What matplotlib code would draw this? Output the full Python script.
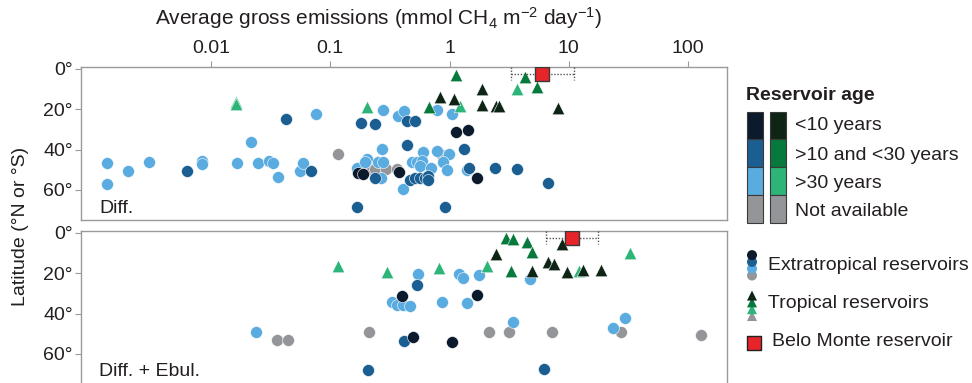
import numpy as np
import matplotlib
matplotlib.use("Agg")
import matplotlib.pyplot as plt
from matplotlib.patches import Rectangle

plt.rcParams['font.family'] = ['Liberation Sans', 'DejaVu Sans']
plt.rcParams['mathtext.default'] = 'regular'

# ---------------- data (x = emissions, mmol CH4 m-2 day-1 ; y = latitude) -------------
# Diffusion panel
diff_ext_old_x = [0.00134, 0.00134, 0.00201, 0.00301, 0.00838, 0.00838, 0.01665, 0.0217, 0.0250, 0.0309,
                  0.0333, 0.0367, 0.0558, 0.0588, 0.0764, 0.277, 0.368, 0.413, 0.781, 1.05,
                  0.272, 0.596, 0.781, 0.985, 0.202, 0.167, 0.196, 0.253, 0.279, 0.267,
                  0.485, 0.537, 0.585, 0.566, 0.695, 0.405, 0.887, 0.948, 1.39]
diff_ext_old_y = [46.8, 56.9, 50.4, 46.1, 45.8, 47.1, 46.8, 36.0, 46.8, 45.5,
                  46.8, 53.4, 50.4, 46.8, 22.5, 20.3, 23.2, 20.7, 20.3, 22.5,
                  39.5, 41.0, 40.5, 42.3, 44.6, 48.9, 46.3, 46.3, 46.3, 54.2,
                  46.3, 46.3, 45.5, 48.1, 49.2, 59.6, 46.0, 50.1, 50.1]
diff_ext_mid_x = [0.00627, 0.0429, 0.069, 0.181, 0.239, 0.438, 0.511, 0.443, 1.33, 0.238,
                  0.467, 0.514, 0.566, 0.623, 0.664, 0.664, 1.47, 2.41, 3.70, 6.73,
                  0.169, 0.917]
diff_ext_mid_y = [50.4, 24.9, 50.4, 26.9, 27.3, 25.9, 25.6, 37.8, 39.7, 54.2,
                  55.0, 54.2, 54.2, 54.2, 53.0, 55.0, 49.2, 49.2, 49.6, 56.4,
                  68.3, 68.3]
diff_ext_new_x = [1.14, 1.44, 0.172, 0.190, 0.377, 1.69]
diff_ext_new_y = [31.2, 30.4, 51.7, 52.1, 51.2, 54.2]
diff_ext_na_x = [0.117, 0.209, 0.238, 0.292, 0.361, 0.861]
diff_ext_na_y = [42.1, 49.6, 49.6, 49.6, 49.6, 42.5]
diff_tro_old_x = [0.0161, 0.0161, 0.202, 1.22, 3.68]
diff_tro_old_y = [16.6, 17.6, 18.7, 18.3, 9.8]
diff_tro_mid_x = [0.677, 1.13, 4.32, 5.41]
diff_tro_mid_y = [19.0, 3.0, 4.1, 9.1]
diff_tro_new_x = [0.838, 1.09, 1.88, 1.86, 2.45, 2.61, 8.17]
diff_tro_new_y = [13.7, 15.0, 9.9, 17.8, 18.3, 18.3, 19.5]
diff_bm_x, diff_bm_y, diff_bm_lo, diff_bm_hi = 6.0, 2.3, 3.28, 11.06

# Diffusion + ebullition panel
tot_ext_old_x = [0.0239, 0.327, 0.361, 0.410, 0.467, 0.547, 0.861, 1.19, 1.29, 1.39,
                 1.78, 4.73, 3.43, 23.6, 29.6]
tot_ext_old_y = [49.3, 34.3, 35.7, 35.7, 36.0, 20.3, 34.3, 20.5, 22.5, 34.5,
                 20.8, 22.8, 44.4, 46.9, 42.2]
tot_ext_mid_x = [0.531, 0.416, 0.206, 6.19]
tot_ext_mid_y = [25.8, 53.8, 67.8, 67.6]
tot_ext_new_x = [0.397, 1.69, 0.498, 1.05]
tot_ext_new_y = [31.1, 30.6, 51.6, 54.3]
tot_ext_na_x = [0.0358, 0.0443, 0.211, 2.14, 3.15, 7.28, 27.2, 127.6]
tot_ext_na_y = [52.9, 52.9, 49.1, 49.3, 49.3, 49.1, 49.3, 50.8]
tot_tro_old_x = [0.117, 0.297, 0.822, 2.05, 12.2, 32.6]
tot_tro_old_y = [16.2, 19.2, 17.2, 16.2, 18.9, 10.1]
tot_tro_mid_x = [2.96, 3.43, 4.49, 4.89, 3.26]
tot_tro_mid_y = [2.4, 3.1, 4.4, 9.3, 18.9]
tot_tro_new_x = [2.44, 4.89, 6.73, 7.52, 8.71, 9.60, 13.2, 18.5]
tot_tro_new_y = [10.3, 18.9, 14.3, 15.4, 5.7, 19.5, 18.5, 18.5]
tot_bm_x, tot_bm_y, tot_bm_lo, tot_bm_hi = 10.6, 2.4, 6.44, 17.5

x_ticks = [0.01, 0.1, 1, 10, 100]
x_tick_labels = ['0.01', '0.1', '1', '10', '100']
y_ticks = [0, 20, 40, 60]
y_tick_labels = ['0°', '20°', '40°', '60°']
age_labels = ['<10 years', '>10 and <30 years', '>30 years', 'Not available']

# ---------------- styling ----------------
C_EXT = ['#0b1a2c', '#1b5e91', '#5aabdf', '#939598']
C_TRO = ['#0e2515', '#07793c', '#2cb479', '#939598']
TXT = '#231f20'
SPINE = '#9a9a9a'

W, H = 972, 383
fig = plt.figure(figsize=(W / 100, H / 100), dpi=100)

def px_axes(l, t, r, b):
    return [l / W, 1 - b / H, (r - l) / W, (b - t) / H]

ax1 = fig.add_axes(px_axes(81, 66.7, 727, 220))
ax2 = fig.add_axes(px_axes(81, 230.7, 727, 384))

def style(ax, top_labels):
    ax.set_xscale('log')
    ax.set_xlim(8.15e-4, 211.8)
    ax.set_ylim(74.9, -1.1)
    for s in ax.spines.values():
        s.set_color(SPINE)
        s.set_linewidth(1.0)
    ax.set_yticks(y_ticks)
    ax.set_yticklabels(y_tick_labels)
    ax.tick_params(axis='y', which='major', length=4, width=0.8, color=SPINE,
                   labelsize=14, labelcolor=TXT, pad=2)
    ax.minorticks_off()
    if top_labels:
        ax.xaxis.set_ticks_position('top')
        ax.set_xticks(x_ticks)
        ax.set_xticklabels(x_tick_labels)
        ax.tick_params(axis='x', which='major', length=4, width=0.8, color=SPINE,
                       labelsize=14, labelcolor=TXT, pad=3, top=True, bottom=False)
    else:
        ax.set_xticks([])
    ax.xaxis.set_minor_locator(matplotlib.ticker.NullLocator())

style(ax1, True)
style(ax2, False)

S_C, S_T = 74, 82

def draw(ax, ext, tro, bm):
    # draw order: not available, old, mid, new
    order = [3, 2, 1, 0]
    for i in order:
        x, y = ext[i]
        ax.scatter(x, y, s=S_C, marker='o', color=C_EXT[i], edgecolors='white',
                   linewidths=0.4, zorder=3)
    for i in order:
        x, y = tro[i]
        if len(x) == 0:
            continue
        ax.scatter(x, y, s=S_T, marker='^', color=C_TRO[i], edgecolors='white',
                   linewidths=0.4, zorder=3)
    bx, by, lo, hi = bm
    ax.hlines(by, lo, hi, colors='#555555', linestyles=(0, (1, 1.2)), linewidth=1.0, zorder=4)
    ax.vlines([lo, hi], by - 3.2, by + 3.2, colors='#555555', linestyles=(0, (1, 1.2)),
              linewidth=1.0, zorder=4)
    ax.scatter([bx], [by], s=105, marker='s', color='#e8242b', edgecolors='#3a3a3a',
               linewidths=1.0, zorder=5)

draw(ax1,
     [(diff_ext_new_x, diff_ext_new_y), (diff_ext_mid_x, diff_ext_mid_y),
      (diff_ext_old_x, diff_ext_old_y), (diff_ext_na_x, diff_ext_na_y)],
     [(diff_tro_new_x, diff_tro_new_y), (diff_tro_mid_x, diff_tro_mid_y),
      (diff_tro_old_x, diff_tro_old_y), ([], [])],
     (diff_bm_x, diff_bm_y, diff_bm_lo, diff_bm_hi))
draw(ax2,
     [(tot_ext_new_x, tot_ext_new_y), (tot_ext_mid_x, tot_ext_mid_y),
      (tot_ext_old_x, tot_ext_old_y), (tot_ext_na_x, tot_ext_na_y)],
     [(tot_tro_new_x, tot_tro_new_y), (tot_tro_mid_x, tot_tro_mid_y),
      (tot_tro_old_x, tot_tro_old_y), ([], [])],
     (tot_bm_x, tot_bm_y, tot_bm_lo, tot_bm_hi))

ax1.text(0.028, 0.078, 'Diff.', transform=ax1.transAxes, fontsize=14, color=TXT,
         ha='left', va='center')
ax2.text(0.028, 0.080, 'Diff. + Ebul.', transform=ax2.transAxes, fontsize=14, color=TXT,
         ha='left', va='center')

# axis titles
fig.text(378 / W, 1 - 18 / H, r'Average gross emissions (mmol CH$_4$ m$^{-2}$ day$^{-1}$)',
         ha='center', va='center', fontsize=15, color=TXT)
fig.text(21 / W, 1 - 226 / H, 'Latitude (°N or °S)', rotation=90, ha='center', va='center',
         fontsize=14, color=TXT)

# ---------------- legend (drawn in pixel space) ----------------
lg = fig.add_axes([0, 0, 1, 1], zorder=10)
lg.set_xlim(0, W)
lg.set_ylim(H, 0)
lg.axis('off')
lg.patch.set_alpha(0)

lg.text(746, 96, 'Reservoir age', fontsize=14, fontweight='bold', color=TXT,
        ha='left', va='center')
row_top = 111.7
row_h = 27.75
label_y = [125, 155, 183.5, 211.5]
for i, lab in enumerate(age_labels):
    t = row_top + i * row_h
    lg.add_patch(Rectangle((747, t), 16, row_h, facecolor=C_EXT[i], edgecolor='#3a3a3a',
                           linewidth=0.8))
    lg.add_patch(Rectangle((770, t), 16, row_h, facecolor=C_TRO[i], edgecolor='#3a3a3a',
                           linewidth=0.8))
    lg.text(795, label_y[i], lab, fontsize=14, color=TXT, ha='left', va='center')

for k, i in enumerate([3, 2, 1, 0]):
    lg.scatter([752], [275.5 - k * 6.8], s=52, marker='o', color=C_EXT[i],
               edgecolors='none', zorder=3 + k)
    lg.scatter([752], [316 - k * 6.8], s=52, marker='^', color=C_TRO[i],
               edgecolors='none', zorder=3 + k)
lg.text(767.5, 265, 'Extratropical reservoirs', fontsize=14, color=TXT, ha='left', va='center')
lg.text(767.5, 304, 'Tropical reservoirs', fontsize=14, color=TXT, ha='left', va='center')
lg.scatter([754], [342.5], s=105, marker='s', color='#e8242b', edgecolors='#222222',
           linewidths=1.0)
lg.text(771.5, 342, 'Belo Monte reservoir', fontsize=14, color=TXT, ha='left', va='center')

fig.savefig('out.png', dpi=100)
